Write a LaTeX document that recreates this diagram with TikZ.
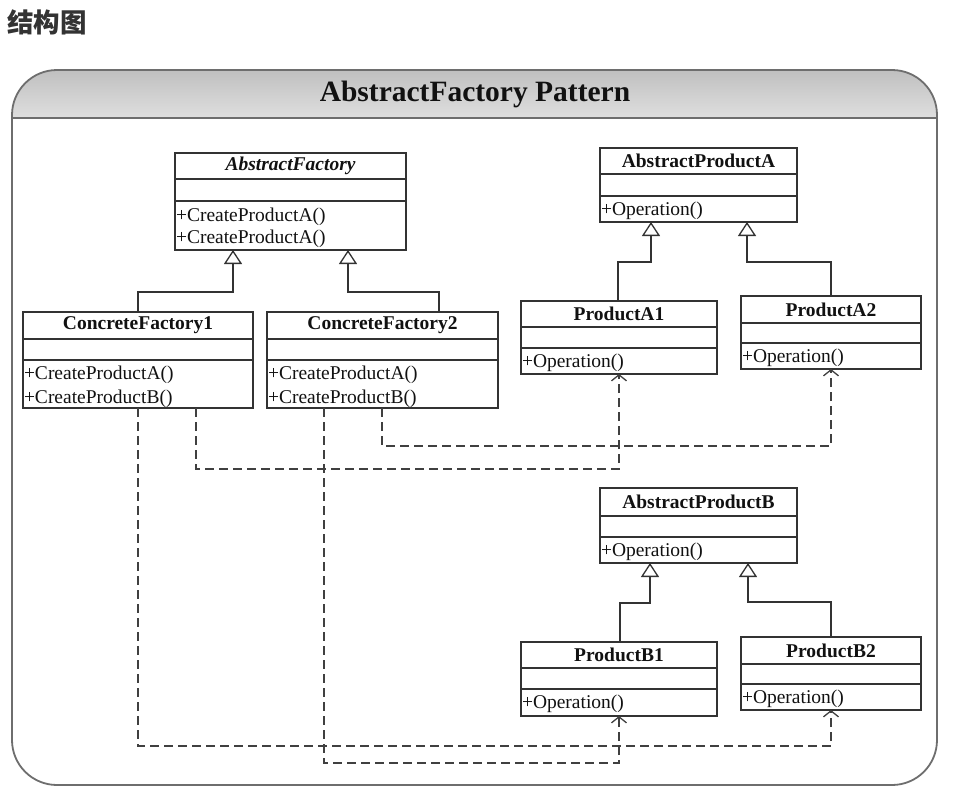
\documentclass[tikz,border=0pt]{standalone}
\usepackage{fontspec}
\setmainfont{Liberation Serif}
\newfontfamily\cjkfont{Noto Sans CJK SC}
\usetikzlibrary{arrows.meta}
\definecolor{lineC}{HTML}{333333}
\definecolor{depC}{HTML}{404040}
\definecolor{frameC}{HTML}{6E6E6E}
\definecolor{txtC}{HTML}{111111}
\definecolor{cjkC}{HTML}{333333}
\newcommand\umlclass[8]{%
  \node[clsbox, minimum width={(#4)-(#2)}, minimum height={(#5)-(#3)}] (#1) at ({((#2)+(#4))/2},{((#3)+(#5))/2}) {};
  \draw[clsline] (#2,#6) -- (#4,#6);
  \draw[clsline] (#2,#7) -- (#4,#7);
  \node[clsname] (#1-name) at ({((#2)+(#4))/2},{((#3)+(#6))/2}) {#8};
}
\begin{document}
\begin{tikzpicture}[x=1pt,y=-1pt,
  clsbox/.style={draw=lineC, line width=1.3pt, inner sep=0pt, outer sep=0pt, rectangle},
  clsline/.style={draw=lineC, line width=1.3pt},
  clsname/.style={inner sep=0pt, text=txtC, font=\fontsize{19.5}{22}\selectfont\bfseries},
  meth/.style={inner sep=0pt, anchor=west, text=txtC, font=\fontsize{19.5}{22}\selectfont, xshift=0.8pt, yshift=-1.5pt},
  inh/.style={draw=lineC, line width=1.3pt, -{Triangle[open, length=14pt, width=18pt, line width=1.3pt]}},
  dep/.style={draw=depC, line width=1.3pt, dash pattern=on 9pt off 5pt, -{Straight Barb[length=6pt, width=15pt, line width=1.3pt]}},
  frame/.style={draw=frameC, line width=1.8pt}
]
\useasboundingbox (0,0) rectangle (953,806);

% heading
\node[anchor=west, inner sep=0pt, text=cjkC, font=\cjkfont\bfseries\fontsize{26.5}{30}\selectfont] (heading) at (7,22) {结构图};

% header band
\begin{scope}
  \clip (0,0) rectangle (953,118);
  \shade[top color=black!25, middle color=black!6, bottom color=white, rounded corners=45pt] (12,70) rectangle (937,166);
\end{scope}
\draw[frame, rounded corners=45pt] (12,400) -- (12,70) -- (937,70) -- (937,785) -- (12,785) -- cycle;
\draw[frame] (12,118) -- (937,118);
\node[inner sep=0pt, text=txtC, font=\fontsize{29.5}{32}\selectfont\bfseries] (title) at (475,94) {AbstractFactory Pattern};

% classes
\umlclass{af}{175}{153}{406}{250}{179}{201}{\itshape AbstractFactory}
\node[meth] (af-m1) at (175,215) {+CreateProductA()};
\node[meth] (af-m2) at (175,237) {+CreateProductA()};

\umlclass{apa}{600}{148}{797}{222}{174}{196}{AbstractProductA}
\node[meth] (apa-m1) at (600,209) {+Operation()};

\umlclass{cf1}{23}{312}{253}{408}{339}{360}{ConcreteFactory1}
\node[meth] (cf1-m1) at (23,373) {+CreateProductA()};
\node[meth] (cf1-m2) at (23,397) {+CreateProductB()};

\umlclass{cf2}{267}{312}{498}{408}{339}{360}{ConcreteFactory2}
\node[meth] (cf2-m1) at (267,373) {+CreateProductA()};
\node[meth] (cf2-m2) at (267,397) {+CreateProductB()};

\umlclass{pa1}{521}{301}{717}{374}{327}{348}{ProductA1}
\node[meth] (pa1-m1) at (521,361) {+Operation()};

\umlclass{pa2}{741}{296}{921}{369}{323}{343}{ProductA2}
\node[meth] (pa2-m1) at (741,356) {+Operation()};

\umlclass{apb}{600}{488}{797}{563}{516}{537}{AbstractProductB}
\node[meth] (apb-m1) at (600,550) {+Operation()};

\umlclass{pb1}{521}{642}{717}{716}{668}{689}{ProductB1}
\node[meth] (pb1-m1) at (521,702) {+Operation()};

\umlclass{pb2}{741}{637}{921}{710}{664}{684}{ProductB2}
\node[meth] (pb2-m1) at (741,697) {+Operation()};

% inheritance
\coordinate (i1a) at (138,292); \coordinate (i1b) at (233,292);
\coordinate (i2a) at (439,292); \coordinate (i2b) at (348,292);
\coordinate (i3a) at (618,262); \coordinate (i3b) at (651,262);
\coordinate (i4a) at (831,262); \coordinate (i4b) at (747,262);
\coordinate (i5a) at (620,603); \coordinate (i5b) at (650,603);
\coordinate (i6a) at (831,602); \coordinate (i6b) at (748,602);
\draw[inh] (cf1.north -| i1a) -- (i1a) -- (i1b) -- (af.south -| i1b);
\draw[inh] (cf2.north -| i2a) -- (i2a) -- (i2b) -- (af.south -| i2b);
\draw[inh] (pa1.north -| i3a) -- (i3a) -- (i3b) -- (apa.south -| i3b);
\draw[inh] (pa2.north -| i4a) -- (i4a) -- (i4b) -- (apa.south -| i4b);
\draw[inh] (pb1.north -| i5a) -- (i5a) -- (i5b) -- (apb.south -| i5b);
\draw[inh] (pb2.north -| i6a) -- (i6a) -- (i6b) -- (apb.south -| i6b);

% dependencies
\coordinate (d1a) at (196,469); \coordinate (d1b) at (619,469);
\coordinate (d2a) at (382,446); \coordinate (d2b) at (831,446);
\coordinate (d3a) at (138,746); \coordinate (d3b) at (831,746);
\coordinate (d4a) at (324,763); \coordinate (d4b) at (619,763);
\draw[dep] (cf1.south -| d1a) -- (d1a) -- (d1b) -- (pa1.south -| d1b);
\draw[dep] (cf2.south -| d2a) -- (d2a) -- (d2b) -- (pa2.south -| d2b);
\draw[dep] (cf1.south -| d3a) -- (d3a) -- (d3b) -- (pb2.south -| d3b);
\draw[dep] (cf2.south -| d4a) -- (d4a) -- (d4b) -- (pb1.south -| d4b);
\end{tikzpicture}
\end{document}
